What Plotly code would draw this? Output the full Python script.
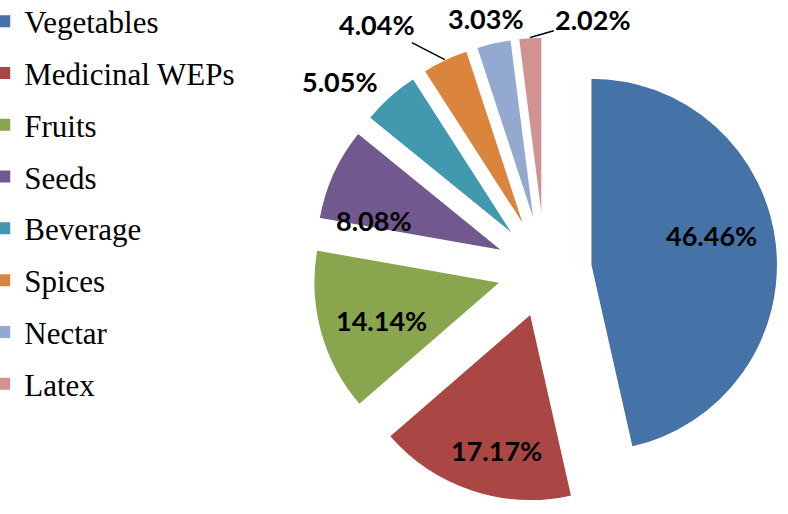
import math
import plotly.graph_objects as go

categories = ["Vegetables", "Medicinal WEPs", "Fruits", "Seeds", "Beverage", "Spices", "Nectar", "Latex"]
percentages = [46.46, 17.17, 14.14, 8.08, 5.05, 4.04, 3.03, 2.02]
colors = ["#4572A7", "#AA4643", "#89A54E", "#71588F", "#4198AF", "#DB843D", "#93A9CF", "#D19392"]

# style / layout constants
W, H = 788, 514
PULL = 0.246
DOM_X = [0.3959, 0.9873]
DOM_Y = [0.0214, 0.928]
LABEL_FONT = dict(family="Lato", size=27, color="black", weight="bold")
INSIDE_R = 0.7  # inside labels: fraction of the radius along the slice bisector
# label placement: where ("in" / "out"), pixel nudge, leader line
label_style = {
    "Vegetables": dict(where="in", dx=-9, dy=-15, leader=False),
    "Medicinal WEPs": dict(where="in", dx=7, dy=12, leader=False),
    "Fruits": dict(where="in", dx=7, dy=3, leader=False),
    "Seeds": dict(where="in", dx=-10, dy=24, leader=False),
    "Beverage": dict(where="out", dx=-50, dy=-15, leader=False),
    "Spices": dict(where="out", dx=-68, dy=-35, leader=True),
    "Nectar": dict(where="out", dx=-8, dy=-24, leader=False),
    "Latex": dict(where="out", dx=63, dy=-18, leader=True),
}

fig = go.Figure()

fig.add_trace(go.Pie(
    labels=categories,
    values=percentages,
    sort=False,
    direction="clockwise",
    rotation=0,
    pull=[PULL] * len(categories),
    marker=dict(colors=colors, line=dict(color="white", width=1.5)),
    textinfo="none",
    showlegend=False,
    automargin=False,
    hoverinfo="label+value",
    domain=dict(x=DOM_X, y=DOM_Y),
))

# Percentage labels, placed from the slice angles of the data
cx = (DOM_X[0] + DOM_X[1]) / 2 * W
cy = (1 - (DOM_Y[0] + DOM_Y[1]) / 2) * H
half = min((DOM_X[1] - DOM_X[0]) * W, (DOM_Y[1] - DOM_Y[0]) * H) / 2
radius = half / (1 + PULL)
total = sum(percentages)
cum = 0.0
for name, val in zip(categories, percentages):
    mid = (cum + val / 2) / total * 2 * math.pi
    cum += val
    st = label_style[name]
    sx, sy = math.sin(mid), -math.cos(mid)
    if st["where"] == "in":
        dist = PULL * radius + INSIDE_R * radius
    else:
        dist = half
    px = cx + dist * sx
    py = cy + dist * sy
    common = dict(
        text=f"{val:.2f}%", font=LABEL_FONT,
        xref="paper", yref="paper",
        x=px / W, y=1 - py / H,
    )
    if st["leader"]:
        fig.add_annotation(**common, showarrow=True, arrowhead=0, arrowwidth=1.5,
                           arrowcolor="black", ax=st["dx"], ay=st["dy"], standoff=0)
    else:
        fig.add_annotation(**common, showarrow=False, xanchor="center", yanchor="middle",
                           xshift=st["dx"], yshift=-st["dy"])

# Legend entries (one group each so the spacing matches the reference)
for name, col in zip(categories, colors):
    fig.add_trace(go.Scatter(
        x=[None], y=[None], mode="markers", name=name,
        legendgroup=name,
        marker=dict(symbol="square", size=12, color=col),
        showlegend=True,
    ))

fig.update_layout(
    width=W, height=H,
    margin=dict(l=0, r=0, t=0, b=0, autoexpand=False),
    paper_bgcolor="white", plot_bgcolor="white",
    xaxis=dict(visible=False, domain=[0, 0.3]), yaxis=dict(visible=False),
    legend=dict(
        x=-0.02, y=1.0, xanchor="left", yanchor="top",
        font=dict(family="Liberation Serif", size=31, color="black"),
        tracegroupgap=8.5, itemwidth=30,
        bgcolor="rgba(0,0,0,0)",
    ),
)
try:
    fig.update_layout(legend=dict(y=1.0107, maxheight=600))
except Exception:
    pass

fig.write_html("out.html", config={"displayModeBar": False},
               post_script="document.body.style.margin='0';")
